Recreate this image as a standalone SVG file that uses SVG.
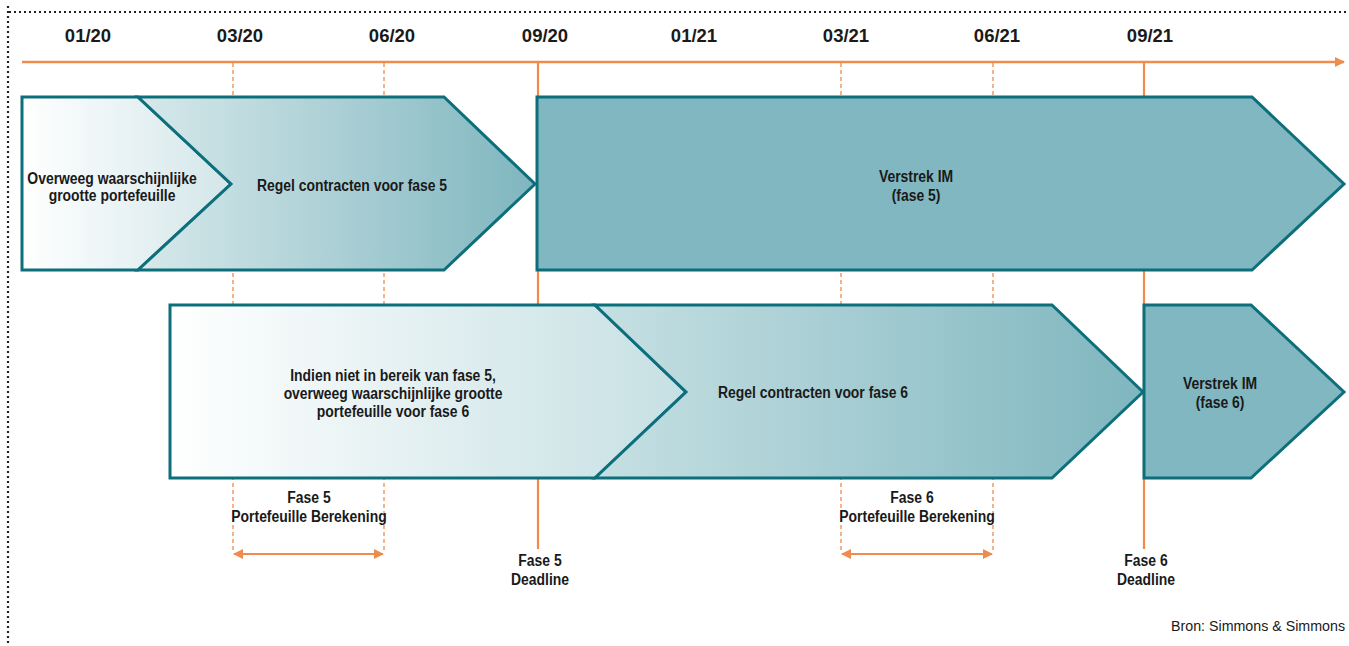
<svg xmlns="http://www.w3.org/2000/svg" width="1349" height="646" viewBox="0 0 1349 646">
<style>
.lbl{font-family:"Liberation Sans",Arial,sans-serif;font-weight:bold;font-size:16px;fill:#1a1a1a;text-anchor:middle}
.date{font-family:"Liberation Sans",Arial,sans-serif;font-weight:bold;font-size:18.5px;fill:#1a1a1a;text-anchor:middle}
.src{font-family:"Liberation Sans",Arial,sans-serif;font-size:15px;fill:#1a1a1a;text-anchor:end}
.box{stroke:#0d6f7b;stroke-width:3;stroke-linejoin:miter}
.dash{stroke:#ee8c4e;stroke-width:1.3;stroke-dasharray:4 3;fill:none}
.solid{stroke:#ee8c4e;stroke-width:2.2;fill:none}
</style>
<defs>
<linearGradient id="g1" x1="0" x2="1" y1="0" y2="0"><stop offset="0" stop-color="#ffffff"/><stop offset="1" stop-color="#d3e6e9"/></linearGradient>
<linearGradient id="g2" gradientUnits="userSpaceOnUse" x1="138" x2="535" y1="0" y2="0"><stop offset="0" stop-color="#d7e9eb"/><stop offset="1" stop-color="#7fb6bf"/></linearGradient>
<linearGradient id="g3" gradientUnits="userSpaceOnUse" x1="170" x2="686" y1="0" y2="0"><stop offset="0" stop-color="#ffffff"/><stop offset="1" stop-color="#c6e0e3"/></linearGradient>
<linearGradient id="g4" gradientUnits="userSpaceOnUse" x1="595" x2="1143" y1="0" y2="0"><stop offset="0" stop-color="#c6e0e3"/><stop offset="1" stop-color="#7fb6bf"/></linearGradient>
<marker id="ah" viewBox="0 0 10 10" refX="9" refY="5" markerWidth="10" markerHeight="10" markerUnits="userSpaceOnUse" orient="auto-start-reverse"><path d="M0,0 L10,5 L0,10 z" fill="#ee8c4e"/></marker>
</defs>

<g id="frame" fill="none" stroke="#222" stroke-width="2.2" stroke-dasharray="2 3">
<line x1="9" y1="12" x2="1349" y2="12"/>
<line x1="8" y1="6" x2="8" y2="646"/>
</g>

<g id="timeline">
<line x1="22" y1="62" x2="1344" y2="62" stroke="#ee8c4e" stroke-width="2.5" marker-end="url(#ah)"/>
<text class="date" x="88" y="42">01/20</text>
<text class="date" x="240" y="42">03/20</text>
<text class="date" x="392" y="42">06/20</text>
<text class="date" x="545" y="42">09/20</text>
<text class="date" x="694" y="42">01/21</text>
<text class="date" x="846" y="42">03/21</text>
<text class="date" x="997" y="42">06/21</text>
<text class="date" x="1150" y="42">09/21</text>
</g>

<g id="connectors">
<line class="dash" x1="233" y1="63" x2="233" y2="552"/>
<line class="dash" x1="384" y1="63" x2="384" y2="552"/>
<line class="dash" x1="841" y1="63" x2="841" y2="552"/>
<line class="dash" x1="993" y1="63" x2="993" y2="552"/>
<line class="solid" x1="538" y1="63" x2="538" y2="549"/>
<line class="solid" x1="1144" y1="63" x2="1144" y2="549"/>
<line x1="234" y1="554" x2="383" y2="554" stroke="#ee8c4e" stroke-width="2" marker-start="url(#ah)" marker-end="url(#ah)"/>
<line x1="842" y1="554" x2="992" y2="554" stroke="#ee8c4e" stroke-width="2" marker-start="url(#ah)" marker-end="url(#ah)"/>
</g>

<g id="n1">
<polygon class="box" fill="url(#g1)" points="22,97 138,97 231,184 138,270 22,270"/>
<text class="lbl" transform="translate(112,184) scale(0.87,1)">Overweeg waarschijnlijke</text>
<text class="lbl" transform="translate(112,201) scale(0.87,1)">grootte portefeuille</text>
</g>
<g id="n2">
<polygon class="box" fill="url(#g2)" points="138,97 444,97 535,184 444,270 138,270 231,184"/>
<text class="lbl" transform="translate(352,191) scale(0.87,1)">Regel contracten voor fase 5</text>
</g>
<g id="n3">
<polygon class="box" fill="#80b7c0" points="537,97 1252,97 1344,184 1252,270 537,270"/>
<text class="lbl" transform="translate(916,182) scale(0.87,1)">Verstrek IM</text>
<text class="lbl" transform="translate(916,201) scale(0.87,1)">(fase 5)</text>
</g>
<g id="n4">
<polygon class="box" fill="url(#g3)" points="170,305 595,305 686,392 595,478 170,478"/>
<text class="lbl" transform="translate(393,381) scale(0.87,1)">Indien niet in bereik van fase 5,</text>
<text class="lbl" transform="translate(393,399) scale(0.87,1)">overweeg waarschijnlijke grootte</text>
<text class="lbl" transform="translate(393,417) scale(0.87,1)">portefeuille voor fase 6</text>
</g>
<g id="n5">
<polygon class="box" fill="url(#g4)" points="595,305 1052,305 1143,392 1052,478 595,478 686,392"/>
<text class="lbl" transform="translate(813,398) scale(0.87,1)">Regel contracten voor fase 6</text>
</g>
<g id="n6">
<polygon class="box" fill="#80b7c0" points="1144,305 1251,305 1344,392 1251,478 1144,478"/>
<text class="lbl" transform="translate(1220,389) scale(0.87,1)">Verstrek IM</text>
<text class="lbl" transform="translate(1220,408) scale(0.87,1)">(fase 6)</text>
</g>

<g id="labels">
<text class="lbl" transform="translate(309,503) scale(0.87,1)">Fase 5</text>
<text class="lbl" transform="translate(309,522) scale(0.87,1)">Portefeuille Berekening</text>
<text class="lbl" transform="translate(540,566) scale(0.87,1)">Fase 5</text>
<text class="lbl" transform="translate(540,585) scale(0.87,1)">Deadline</text>
<text class="lbl" transform="translate(912,503) scale(0.87,1)">Fase 6</text>
<text class="lbl" transform="translate(917,522) scale(0.87,1)">Portefeuille Berekening</text>
<text class="lbl" transform="translate(1146,566) scale(0.87,1)">Fase 6</text>
<text class="lbl" transform="translate(1146,585) scale(0.87,1)">Deadline</text>
<text class="src" transform="translate(1345,631) scale(0.95,1)">Bron: Simmons &amp; Simmons</text>
</g>
</svg>
